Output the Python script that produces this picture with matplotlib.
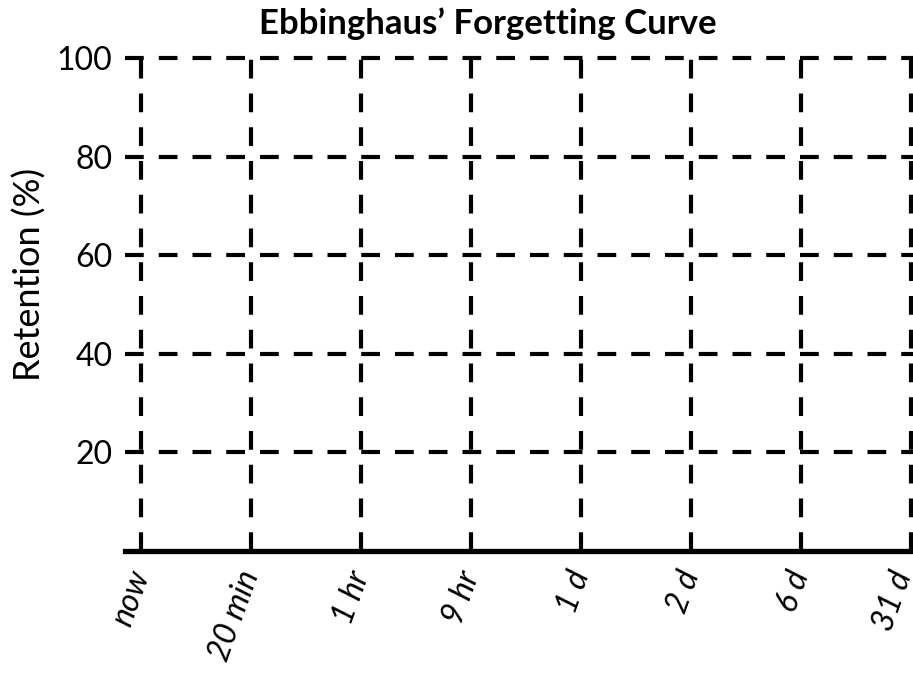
import matplotlib
matplotlib.use("Agg")
import matplotlib.pyplot as plt
import matplotlib.transforms as mtransforms

# Kategorien der Zeitachse und Werte der y-Achse
time_labels = ["now", "20 min", "1 hr", "9 hr", "1 d", "2 d", "6 d", "31 d"]
y_ticks = [20, 40, 60, 80, 100]
y_tick_labels = ["20", "40", "60", "80", "100"]

plt.rcParams["font.family"] = ["Lato", "DejaVu Sans"]

fig = plt.figure(figsize=(9.13, 6.74), dpi=100)
ax = fig.add_axes([125 / 913, 123 / 674, 788 / 913, 493 / 674])

x = list(range(len(time_labels)))
ax.set_xlim(-0.145, 7.018)
ax.set_ylim(0, 100)

ax.set_xticks(x)
ax.set_xticklabels(time_labels, rotation=70, ha="right", va="center",
                   rotation_mode="anchor", fontsize=23, style="italic")
ax.set_yticks(y_ticks)
ax.set_yticklabels(y_tick_labels, fontsize=23)
ax.tick_params(axis="y", length=0, pad=9)
ax.tick_params(axis="x", length=0, pad=15)

# letztes Label leicht nach links, damit es nicht am Rand abgeschnitten wird
last = ax.get_xticklabels()[-1]
last.set_transform(last.get_transform() + mtransforms.ScaledTranslation(-7 / 100, 0, fig.dpi_scale_trans))

dash = (0, (4.5, 3.6))
for xi in x:
    ax.plot([xi, xi], [0, 100], color="black", lw=3, ls=dash,
            solid_capstyle="butt", clip_on=False)
for yv in y_ticks:
    ax.plot([-0.145, 7.018], [yv, yv], color="black", lw=3, ls=dash, clip_on=False)

for side in ["top", "right", "left"]:
    ax.spines[side].set_visible(False)
ax.spines["bottom"].set_linewidth(3.8)
ax.spines["bottom"].set_color("black")

ax.set_ylabel("Retention (%)", fontsize=26)
ax.yaxis.set_label_coords(-0.1, 0.56)

fig.text(488 / 913, 1 - 24 / 674, "Ebbinghaus\u2019 Forgetting Curve",
         ha="center", va="center", fontsize=25, fontweight="bold")

fig.savefig("out.png", dpi=100)
